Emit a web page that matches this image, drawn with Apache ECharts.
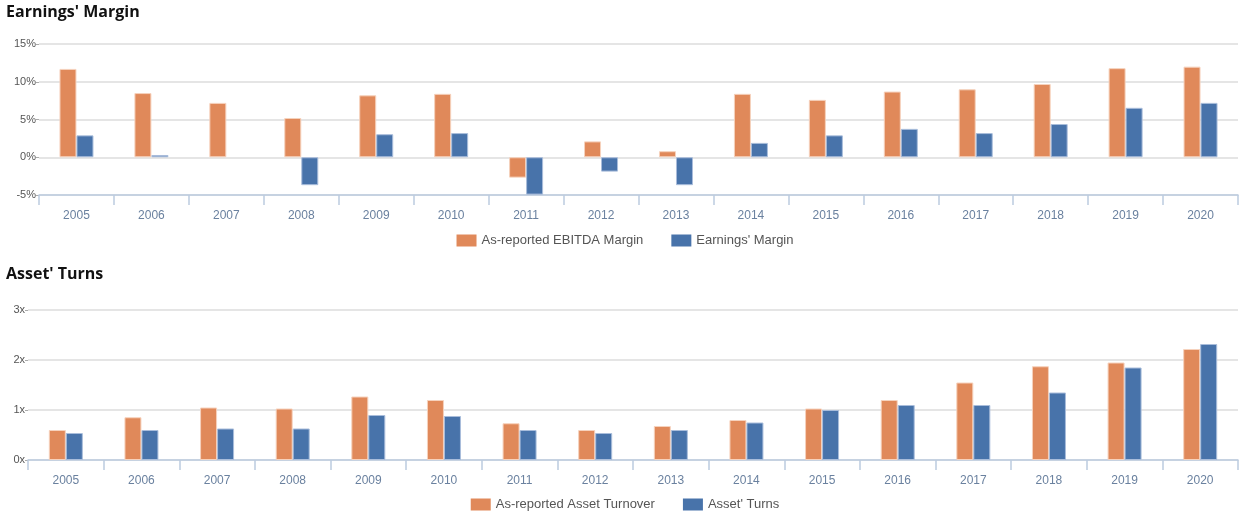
<!DOCTYPE html>
<html><head><meta charset="utf-8">
<script src="https://cdn.jsdelivr.net/npm/echarts@6/dist/echarts.min.js"></script>
<style>html,body{margin:0;padding:0;background:#fff}#c{width:1250px;height:513px}</style>
</head><body><div id="c"></div>
<script>
const years = ['2005','2006','2007','2008','2009','2010','2011','2012','2013','2014','2015','2016','2017','2018','2019','2020'];
const ebitdaMargin = [11.7,8.5,7.2,5.2,8.2,8.4,-2.7,2.1,0.8,8.4,7.6,8.7,9.0,9.7,11.8,12.0];
const earningsMargin = [2.9,0.3,null,-3.7,3.05,3.2,-4.95,-1.9,-3.7,1.9,2.9,3.76,3.2,4.4,6.55,7.2];
const assetTurnover = [0.60,0.855,1.05,1.03,1.27,1.20,0.735,0.60,0.68,0.80,1.03,1.20,1.55,1.875,1.95,2.22];
const assetTurns = [0.54,0.60,0.63,0.63,0.90,0.88,0.60,0.54,0.60,0.75,1.00,1.10,1.10,1.35,1.85,2.32];

const ORANGE = '#E0895A', BLUE = '#4873AA';
const font = 'Liberation Sans, Arial, sans-serif';
const chart = echarts.init(document.getElementById('c'));
function xAxis(gi){
  return {type:'category', gridIndex:gi, data:years, boundaryGap:true,
    axisLine:{show:true, onZero:false, lineStyle:{color:'#bccbe0', width:1.5}},
    axisTick:{show:true, alignWithLabel:false, interval:0, length:10, lineStyle:{color:'#bccbe0', width:1.5}},
    axisLabel:{color:'#6a819f', fontSize:12, fontFamily:font, margin:15}};
}
function yAxis(gi,min,max,interval,fmt){
  return {type:'value', gridIndex:gi, min:min, max:max, interval:interval,
    axisLine:{show:false},
    axisTick:{show:true, length:3, lineStyle:{color:'#aaa'}},
    splitLine:{lineStyle:{color:'#dcdcdc', width:1.5}},
    axisLabel:{color:'#555', fontSize:11, fontFamily:font, margin:3, formatter:fmt}};
}
function bar(name,data,color,border,xi,yi){
  return {type:'bar', name:name, data:data, xAxisIndex:xi, yAxisIndex:yi, barWidth:17, barGap:'0%',
    itemStyle:{color:color, borderColor:border, borderWidth:1}};
}
const legendCommon = {left:'center', icon:'rect', itemWidth:20, itemHeight:12, itemGap:28,
  itemStyle:{borderWidth:0}, textStyle:{color:'#555', fontSize:13, fontFamily:font}};
chart.setOption({
  animation:false,
  title:[
    {text:"Earnings' Margin", left:1, top:-1, textStyle:{fontFamily:'Open Sans', fontWeight:'bold', fontSize:16, color:'#111'}},
    {text:"Asset' Turns", left:1, top:261, textStyle:{fontFamily:'Open Sans', fontWeight:'bold', fontSize:16, color:'#111'}}
  ],
  grid:[
    {left:39, right:12, top:44, height:151},
    {left:28, right:12, top:310, height:150}
  ],
  legend:[
    Object.assign({data:['As-reported EBITDA Margin',"Earnings' Margin"], top:229}, legendCommon),
    Object.assign({data:['As-reported Asset Turnover',"Asset' Turns"], top:493}, legendCommon)
  ],
  xAxis:[xAxis(0), xAxis(1)],
  yAxis:[yAxis(0,-5,15,5,'{value}%'), yAxis(1,0,3,1,'{value}x')],
  series:[
    bar('As-reported EBITDA Margin', ebitdaMargin, ORANGE, '#f6d2bd', 0, 0),
    bar("Earnings' Margin", earningsMargin, BLUE, '#a9bddb', 0, 0),
    bar('As-reported Asset Turnover', assetTurnover, ORANGE, '#f6d2bd', 1, 1),
    bar("Asset' Turns", assetTurns, BLUE, '#a9bddb', 1, 1)
  ]
});
</script></body></html>
